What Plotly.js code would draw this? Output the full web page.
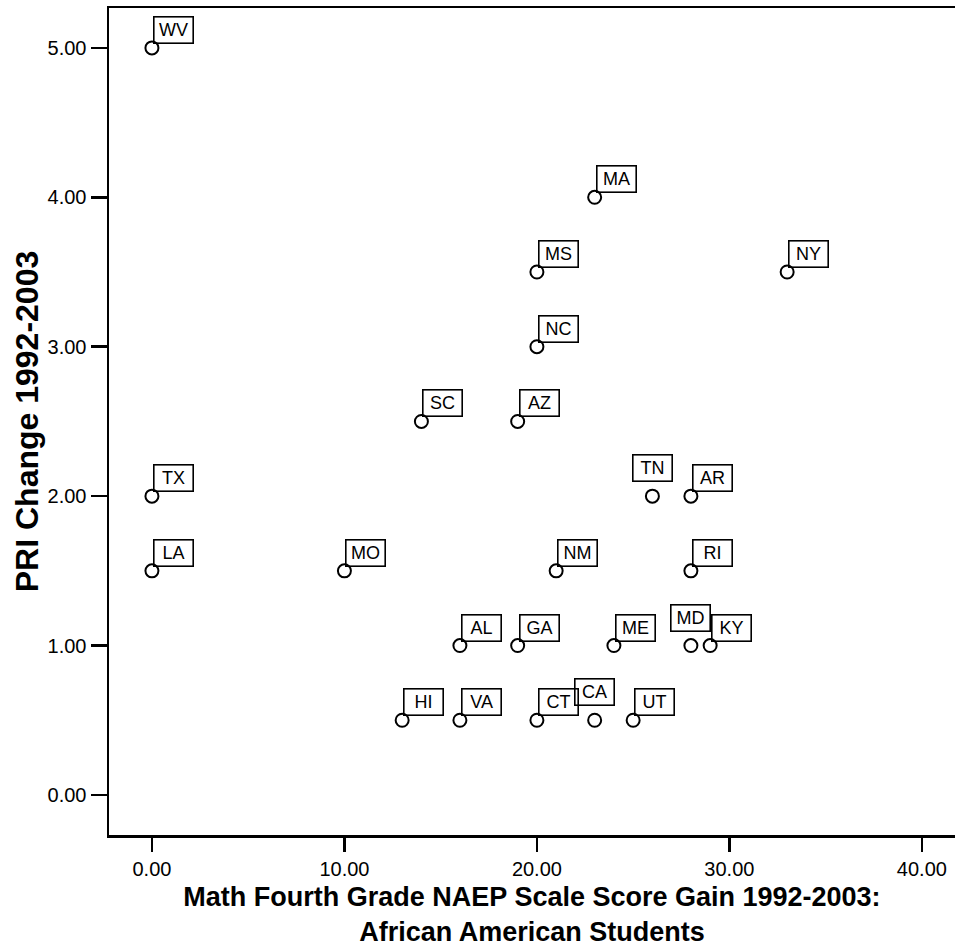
<!DOCTYPE html>
<html>
<head>
<meta charset="utf-8">
<script src="https://cdn.plot.ly/plotly-3.0.1.min.js"></script>
<style>html,body{margin:0;padding:0;background:#fff;}#chart{width:955px;height:951px;}</style>
</head>
<body>
<div id="chart"></div>
<script>
const states = ["WV","MA","MS","NY","NC","SC","AZ","TX","TN","AR","LA","MO","NM","RI","AL","GA","ME","MD","KY","HI","VA","CT","CA","UT"];
const naepGain = [0,23,20,33,20,14,19,0,26,28,0,10,21,28,16,19,24,28,29,13,16,20,23,25];
const priChange = [5,4,3.5,3.5,3,2.5,2.5,2,2,2,1.5,1.5,1.5,1.5,1,1,1,1,1,0.5,0.5,0.5,0.5,0.5];
const xTickVals = [0,10,20,30,40];
const xTickText = ["0.00","10.00","20.00","30.00","40.00"];
const yTickVals = [0,1,2,3,4,5];
const yTickText = ["0.00","1.00","2.00","3.00","4.00","5.00"];

// labels drawn centred above their point instead of to the upper right
const labelsAbove = ["TN","MD","CA"];

const FONT = "Liberation Sans, Arial, sans-serif";

const annotations = states.map((s, i) => {
  const above = labelsAbove.includes(s);
  return {
    x: naepGain[i], y: priChange[i], xref: "x", yref: "y",
    text: s, showarrow: false,
    xanchor: above ? "center" : "left",
    yanchor: "bottom",
    xshift: above ? 0 : 1,
    yshift: above ? 14 : 4,
    width: 34, height: 21,
    borderpad: 2, borderwidth: 1.6, bordercolor: "#000",
    bgcolor: "rgba(255,255,255,0)",
    font: {family: FONT, size: 18, color: "#000"}
  };
});

const trace = {
  x: naepGain, y: priChange, text: states,
  type: "scatter", mode: "markers",
  marker: {symbol: "circle-open", size: 13, color: "#000", line: {width: 2, color: "#000"}},
  hoverinfo: "text+x+y"
};

const layout = {
  width: 955, height: 951,
  margin: {l: 109, r: 0, t: 8, b: 116},
  paper_bgcolor: "#fff", plot_bgcolor: "#fff",
  showlegend: false,
  font: {family: FONT, color: "#000"},
  xaxis: {
    range: [-2.23, 41.72], tickvals: xTickVals, ticktext: xTickText,
    showgrid: false, zeroline: false,
    showline: true, linecolor: "#000", linewidth: 2.5, mirror: true,
    ticks: "outside", ticklen: 14, tickwidth: 2.5, tickcolor: "#000",
    tickfont: {family: FONT, size: 20, color: "#000"},
    title: {text: "<b>Math Fourth Grade NAEP Scale Score Gain 1992-2003:<br>African American Students</b>",
            font: {family: FONT, size: 27, color: "#000"}, standoff: 9}
  },
  yaxis: {
    range: [-0.268, 5.267], tickvals: yTickVals, ticktext: yTickText,
    showgrid: false, zeroline: false,
    showline: true, linecolor: "#000", linewidth: 2.5, mirror: false,
    ticks: "outside", ticklen: 16, tickwidth: 2.5, tickcolor: "#000",
    tickfont: {family: FONT, size: 20, color: "#000"},
    title: {text: "<b>PRI Change 1992-2003</b>", font: {family: FONT, size: 32, color: "#000"}, standoff: 0}
  },
  annotations: annotations
};

Plotly.newPlot("chart", [trace], layout, {displayModeBar: false, staticPlot: true});
</script>
</body>
</html>
